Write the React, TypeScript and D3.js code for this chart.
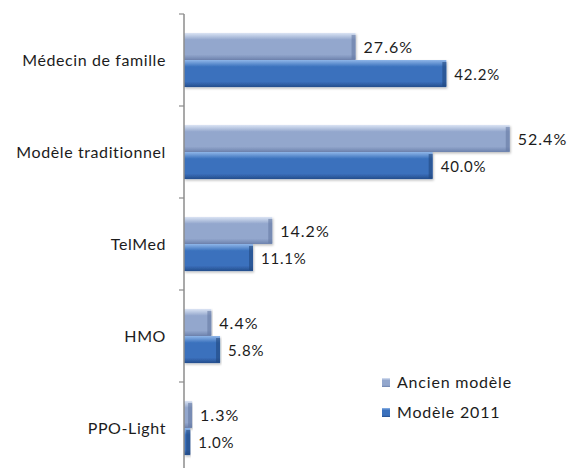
import React from "react";
import * as d3 from "d3";

const categories = ["Médecin de famille", "Modèle traditionnel", "TelMed", "HMO", "PPO-Light"];
const seriesNames = ["Ancien modèle", "Modèle 2011"];
const ancienValues = [27.6, 52.4, 14.2, 4.4, 1.3];
const nouveauValues = [42.2, 40.0, 11.1, 5.8, 1.0];

const W = 568, H = 468;
const FONT = "Lato, 'Open Sans', sans-serif";

const palette = [
  { top: "#dbe4f4", mid: "#93a7cd", bot: "#6d82ad", cap: "#667aa3" },
  { top: "#8fb6e8", mid: "#3b71bd", bot: "#254d8c", cap: "#22477f" },
];

export default function App() {
  const y = d3.scaleBand<string>().domain(categories).range([14, 474]);
  const ySub = d3.scaleBand<number>().domain([0, 1]).range([0, y.bandwidth()]).paddingOuter(0.7);
  const x = d3.scaleLinear().domain([0, 60]).range([184, 557]);
  const values = [ancienValues, nouveauValues];
  const boundaries = categories.map((c) => y(c)!).concat([474]);

  return (
    <svg width={W} height={H} style={{ position: "absolute", left: 0, top: 0, background: "#fff" }}
      fontFamily={FONT}>
      <defs>
        {palette.map((p, i) => (
          <linearGradient key={i} id={`g${i}`} x1="0" y1="0" x2="0" y2="1">
            <stop offset="0" stopColor={p.top} />
            <stop offset="0.25" stopColor={p.mid} />
            <stop offset="0.8" stopColor={p.mid} />
            <stop offset="1" stopColor={p.bot} />
          </linearGradient>
        ))}
        <filter id="sh" x="-5%" y="-20%" width="110%" height="150%">
          <feDropShadow dx="1" dy="1.5" stdDeviation="1" floodColor="#000" floodOpacity="0.25" />
        </filter>
      </defs>

      {/* bars */}
      {values.map((vals, s) =>
        categories.map((c, i) => {
          const y0 = y(c)! + ySub(s)!;
          const h = ySub.bandwidth();
          const x1 = x(vals[i]);
          const w = x1 - x(0);
          return (
            <g key={`${s}-${i}`}>
              <rect x={x(0)} y={y0} width={w} height={h} fill={`url(#g${s})`} filter="url(#sh)" />
              <rect x={Math.max(x(0), x1 - 4)} y={y0 + 2} width={Math.min(4, w)} height={h - 3}
                fill={palette[s].cap} opacity={0.6} />
              <text x={x1 + 8} y={y0 + h / 2 + 1} dy="0.35em" fontSize={s === 0 ? 16 : 15}
                letterSpacing={s === 0 ? 1 : 0.8} fill="#1c1c1c">{vals[i].toFixed(1)}%</text>
            </g>
          );
        })
      )}

      {/* axis */}
      <line x1={x(0)} x2={x(0)} y1={14} y2={H} stroke="#8c8c8c" strokeWidth={1.5} />
      {boundaries.map((b, i) => (
        <line key={i} x1={x(0) - 5} x2={x(0)} y1={b} y2={b} stroke="#8c8c8c" strokeWidth={1.2} />
      ))}
      {categories.map((c) => (
        <text key={c} x={166} y={y(c)! + y.bandwidth() / 2} dy="0.35em" textAnchor="end"
          fontSize={16} letterSpacing={0.6} fill="#1c1c1c">{c}</text>
      ))}

      {/* legend */}
      {seriesNames.map((n, i) => (
        <g key={n} transform={`translate(382, ${378 + i * 30})`}>
          <rect width={8} height={9} fill={`url(#g${i})`} />
          <text x={15} y={4.5} dy="0.35em" fontSize={16} letterSpacing={0.8} fill="#1c1c1c">{n}</text>
        </g>
      ))}
    </svg>
  );
}
